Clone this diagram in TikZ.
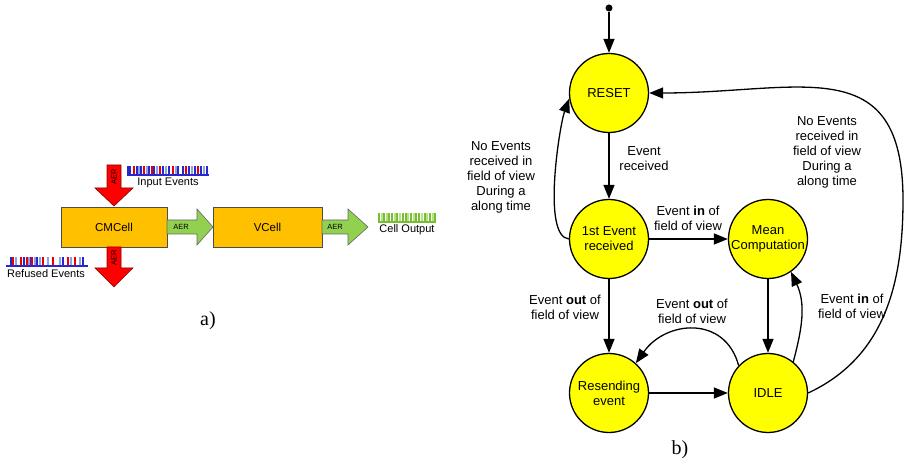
\documentclass[tikz,border=0pt]{standalone}
\usepackage{fontspec}
\setmainfont{Liberation Sans}
\newfontfamily\captionfont{Liberation Serif}
\usetikzlibrary{arrows.meta}
\definecolor{statefill}{RGB}{255,255,0}
\definecolor{cellfill}{RGB}{255,192,0}
\definecolor{aerred}{RGB}{255,0,0}
\definecolor{aergreen}{RGB}{146,208,80}
\definecolor{spkblue}{RGB}{40,40,200}
\definecolor{spkred}{RGB}{230,0,0}
\definecolor{spklight}{RGB}{140,160,240}
\definecolor{outgreen}{RGB}{120,190,50}
\definecolor{outlight}{RGB}{180,225,130}

\begin{document}
\begin{tikzpicture}[x=1pt, y=1pt,
    statecircle/.style ={circle, draw, line width=1.3pt, fill=statefill, minimum size=79pt, inner sep=0pt, align=center, font=\fontsize{13}{15}\selectfont},
    cellbox/.style ={draw=black!70, fill=cellfill, minimum height=40pt, inner sep=0pt, font=\fontsize{11.5}{13}\selectfont},
    tag/.style ={align=center, inner sep=0pt, font=\fontsize{13}{15}\selectfont},
    aer/.style ={inner sep=0pt, font=\fontsize{7.5}{8}\selectfont},
    redblock/.style ={fill=aerred, draw=red!55!black, line width=0.6pt},
    greenblock/.style ={fill=aergreen, draw=black!60, line width=0.6pt},
    trans/.style ={line width=1.3pt, -{Triangle[length=14pt, width=11pt]}}]
   \useasboundingbox (0,0) rectangle (906,464);

   % a) cell chain
   \node[cellbox, minimum width=106pt] (cm) at (114,237) {CMCell};
   \node[cellbox, minimum width=109pt] (vc) at (267.5,237) {VCell};

   \filldraw[redblock] (107,299) -- (121,299) -- (121,276) -- (133,276) -- (114,258) -- (95,276) -- (107,276) -- cycle;
   \filldraw[redblock] (107,217) -- (121,217) -- (121,196) -- (133,196) -- (114,177) -- (95,196) -- (107,196) -- cycle;
   \filldraw[greenblock] (167,244) -- (197,244) -- (197,255) -- (213,237) -- (197,219) -- (197,230) -- (167,230) -- cycle;
   \filldraw[greenblock] (322,244) -- (348,244) -- (348,255) -- (368,237) -- (348,219) -- (348,230) -- (322,230) -- cycle;
   \node[aer, rotate=90] (aerin) at (114,287) {AER};
   \node[aer, rotate=90] (aerout) at (114,206) {AER};
   \node[aer] (aercm) at (181,237) {AER};
   \node[aer] (aervc) at (335,237) {AER};

   % spike trains
   \foreach \x/\c in {0/spkblue,2/spkblue,6/spkred,9/spkblue,11/spklight,13/spkblue,16/spkred,19/spklight,21/spkblue,24/spkred,26/spkblue,29/spklight,32/spkred,35/spkblue,38/spklight,41/spkblue,45/spkred,48/spklight,50/spkblue,55/spkblue,58/spkred,61/spkblue,64/spklight,67/spkblue,70/spkred,73/spkblue,76/spklight,79/spkblue}
      \draw[\c, line width=1.2pt] (128+\x,289) -- ++(0,9);
   \draw[spkblue, line width=1.3pt] (127,289) -- (209,289);
   \node[inner sep=0pt, font=\fontsize{11}{13}\selectfont] (inev) at (168,281) {Input Events};

   \foreach \x/\c in {4/spkblue,6/spkred,9/spklight,14/spkred,17/spkblue,20/spkred,22/spklight,24/spkblue,25/spkred,28/spklight,30/spkblue,33/spklight,36/spkred,41/spklight,46/spkred,53/spklight,56/spkblue,61/spkred,64/spklight,68/spkred,73/spklight,76/spkblue}
      \draw[\c, line width=1.2pt] (7+\x,198) -- ++(0,9);
   \draw[spkblue, line width=1.3pt] (6,198) -- (88,198);
   \node[inner sep=0pt, font=\fontsize{11}{13}\selectfont] (refev) at (46,190) {Refused Events};

   \foreach \x/\c in {0/outgreen,3/outlight,5/outgreen,8/outlight,10/outgreen,13/outgreen,16/outlight,18/outgreen,21/outlight,24/outgreen,27/outgreen,29/outlight,32/outgreen,35/outlight,37/outgreen,40/outgreen,43/outlight,46/outgreen,48/outlight,51/outgreen,54/outlight,56/outgreen}
      \draw[\c, line width=1.2pt] (379+\x,242) -- ++(0,9);
   \draw[outgreen, line width=1.3pt] (378,242) -- (436,242);
   \node[inner sep=0pt, font=\fontsize{11}{13}\selectfont] (cellout) at (407,234) {Cell Output};

   \node[inner sep=0pt, font=\captionfont\fontsize{20}{24}\selectfont] (capa) at (208,143) {a)};

   % b) state machine
   \node[circle, fill, inner sep=0pt, minimum size=7pt] (init) at (609,456) {};
   \node[statecircle] (reset)  at (609,371) {RESET};
   \node[statecircle] (first)  at (609,225) {1st Event\\received};
   \node[statecircle] (mean)   at (768,225) {Mean\\Computation};
   \node[statecircle] (resend) at (609,71)  {Resending\\event};
   \node[statecircle] (idle)   at (768,71)  {IDLE};
   \coordinate (farright) at (903,264);

   \draw[trans] (init) -- (reset);
   \draw[trans] (reset) -- (first);
   \draw[trans] (first) -- (mean);
   \draw[trans] (first) -- (resend);
   \draw[trans] (mean) -- (idle);
   \draw[trans] (resend) -- (idle);
   \draw[trans] (idle.137) to[out=105, in=55, looseness=1.3] (resend.48);
   \draw[trans] (idle.51) to[out=75, in=-65] (mean.-55);
   \draw[trans] (first.west) to[out=175, in=250, looseness=0.5] (reset.188);
   \draw[trans] (idle.east) to[out=25, in=-90] (farright) to[out=90, in=0, looseness=1.4] (reset.east);

   \node[tag] (lrecv)   at (644,305) {Event\\received};
   \node[tag] (lin)     at (688,246) {Event \textbf{in} of\\field of view};
   \node[tag] (lout)    at (565,157) {Event \textbf{out} of\\field of view};
   \node[tag] (lback)   at (692,153) {Event \textbf{out} of\\field of view};
   \node[tag] (lagain)  at (852,158) {Event \textbf{in} of\\field of view};
   \node[tag] (lnoleft) at (501,287) {No Events\\received in\\field of view\\During a\\along time};
   \node[tag] (lnoright) at (827,312) {No Events\\received in\\field of view\\During a\\along time};

   \node[inner sep=0pt, font=\captionfont\fontsize{20}{24}\selectfont] (capb) at (680,14) {b)};
 \end{tikzpicture}
\end{document}
